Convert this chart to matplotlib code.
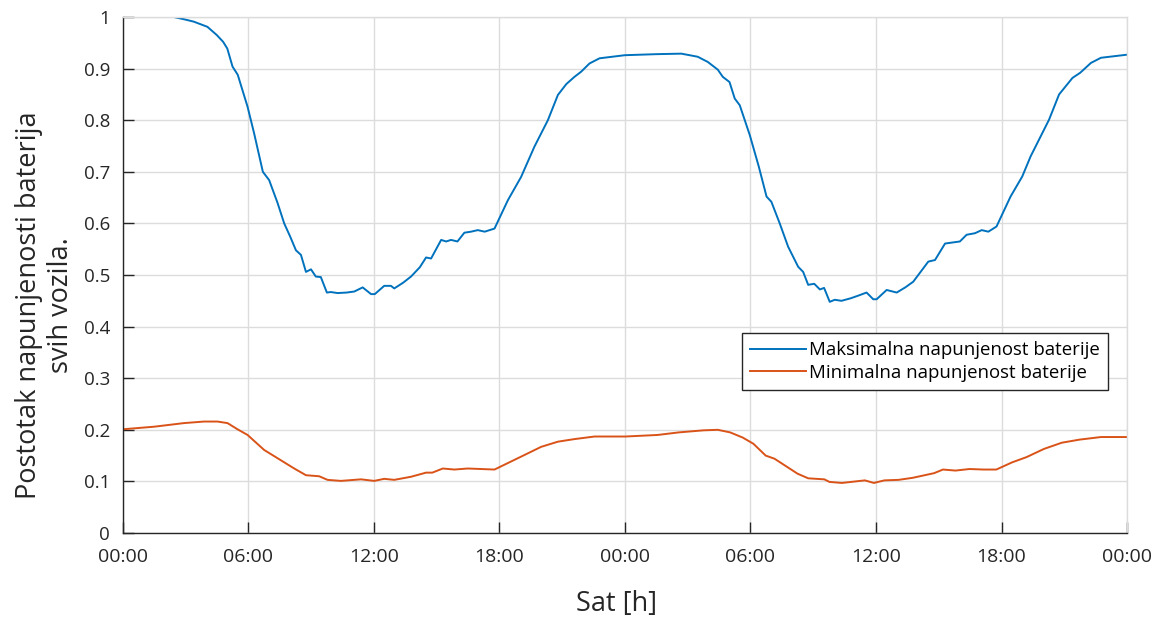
import matplotlib
matplotlib.use("Agg")
import matplotlib.pyplot as plt

plt.rcParams['font.family'] = ['Open Sans', 'DejaVu Sans']

# hours since start
t_max = [0, 1, 2, 2.45, 3.0, 3.4, 4.05, 4.5, 4.8, 5.0, 5.25, 5.5, 5.97, 6.28, 6.7, 7.0, 7.4,
         7.72, 8.0, 8.28, 8.52, 8.76, 9.0, 9.23, 9.47, 9.76, 9.95, 10.27, 10.7, 11.07, 11.47,
         11.87, 12.05, 12.5, 12.82, 12.98, 13.4, 13.78, 14.2, 14.5, 14.74, 15.22, 15.46, 15.69,
         16.0, 16.33, 16.65, 16.97, 17.3, 17.77, 18.41, 19.04, 19.68, 20.32, 20.8, 21.2, 21.59,
         21.91, 22.31, 22.79, 24.0, 25.5, 26.7, 27.48, 27.96, 28.44, 28.68, 29.0, 29.25, 29.49,
         29.97, 30.4, 30.77, 31.0, 31.4, 31.8, 32.28, 32.52, 32.76, 33.05, 33.32, 33.52, 33.79,
         34.03, 34.35, 34.8, 35.15, 35.55, 35.87, 36.03, 36.51, 36.99, 37.4, 37.78, 38.5, 38.82,
         39.3, 40.01, 40.33, 40.73, 41.05, 41.37, 41.76, 42.43, 42.99, 43.39, 44.27, 44.75,
         45.39, 45.76, 46.27, 46.75, 48]
v_max = [1.0, 1.0, 1.0, 1.0, 0.995, 0.991, 0.981, 0.965, 0.952, 0.939, 0.904, 0.888, 0.826,
         0.775, 0.700, 0.684, 0.64, 0.600, 0.575, 0.548, 0.539, 0.506, 0.511, 0.497, 0.496,
         0.466, 0.467, 0.465, 0.466, 0.468, 0.476, 0.463, 0.463, 0.479, 0.479, 0.474, 0.485,
         0.497, 0.515, 0.534, 0.532, 0.568, 0.565, 0.568, 0.565, 0.582, 0.584, 0.587, 0.584,
         0.590, 0.645, 0.690, 0.749, 0.800, 0.849, 0.870, 0.884, 0.894, 0.910, 0.920, 0.926,
         0.928, 0.929, 0.923, 0.913, 0.898, 0.884, 0.874, 0.842, 0.829, 0.771, 0.71, 0.652,
         0.642, 0.60, 0.555, 0.516, 0.506, 0.481, 0.483, 0.472, 0.475, 0.448, 0.452, 0.450,
         0.455, 0.460, 0.466, 0.453, 0.453, 0.471, 0.466, 0.476, 0.487, 0.526, 0.529, 0.561,
         0.565, 0.578, 0.581, 0.587, 0.584, 0.594, 0.652, 0.691, 0.730, 0.801, 0.850, 0.882,
         0.892, 0.911, 0.921, 0.927]

t_min = [0, 1.5, 2.93, 3.89, 4.53, 5.01, 5.49, 5.97, 6.76, 7.4, 8.2, 8.76, 9.39, 9.79, 10.43,
         11.39, 12.02, 12.5, 12.98, 13.78, 14.5, 14.8, 15.3, 15.85, 16.49, 17.13, 17.77, 19.04,
         20.0, 20.8, 21.59, 22.55, 24.03, 25.56, 26.58, 27.76, 28.44, 29.03, 29.63, 30.14,
         30.73, 31.15, 32.25, 32.76, 33.53, 33.78, 34.37, 35.47, 35.9, 36.4, 37.08, 37.76,
         38.78, 39.2, 39.8, 40.47, 41.15, 41.75, 42.51, 43.19, 44.03, 44.88, 45.73, 46.75, 48]
v_min = [0.201, 0.206, 0.213, 0.216, 0.216, 0.213, 0.201, 0.190, 0.161, 0.145, 0.125, 0.112,
         0.110, 0.103, 0.101, 0.104, 0.101, 0.105, 0.103, 0.109, 0.117, 0.117, 0.125, 0.123,
         0.125, 0.124, 0.123, 0.148, 0.167, 0.177, 0.182, 0.187, 0.187, 0.190, 0.195, 0.199,
         0.200, 0.195, 0.185, 0.173, 0.150, 0.144, 0.115, 0.106, 0.104, 0.099, 0.097, 0.102,
         0.097, 0.102, 0.103, 0.107, 0.116, 0.123, 0.121, 0.124, 0.123, 0.123, 0.137, 0.147,
         0.163, 0.175, 0.181, 0.186, 0.186]

x_ticks = [0, 6, 12, 18, 24, 30, 36, 42, 48]
x_tick_labels = ['00:00', '06:00', '12:00', '18:00', '00:00', '06:00', '12:00', '18:00', '00:00']
y_ticks = [0, 0.1, 0.2, 0.3, 0.4, 0.5, 0.6, 0.7, 0.8, 0.9, 1.0]
y_tick_labels = ['0', '0.1', '0.2', '0.3', '0.4', '0.5', '0.6', '0.7', '0.8', '0.9', '1']

label_max = 'Maksimalna napunjenost baterije'
label_min = 'Minimalna napunjenost baterije'
x_label = 'Sat [h]'
y_label = 'Postotak napunjenosti baterija\nsvih vozila.'

fig = plt.figure(figsize=(11.56, 6.21), dpi=100)
ax = fig.add_axes([0.1061, 0.1417, 0.9750 - 0.1061, 0.9726 - 0.1417])

ax.plot(t_max, v_max, color='#0072BD', lw=1.4, label=label_max)
ax.plot(t_min, v_min, color='#D95319', lw=1.4, label=label_min)

ax.set_xlim(0, 48)
ax.set_ylim(0, 1)
ax.set_xticks(x_ticks)
ax.set_xticklabels(x_tick_labels)
ax.set_yticks(y_ticks)
ax.set_yticklabels(y_tick_labels)

ax.grid(True, color='#dcdcdc', lw=1.0)
ax.set_axisbelow(True)
for s in ['top', 'right']:
    ax.spines[s].set_color('#dcdcdc')
    ax.spines[s].set_linewidth(1.0)
for s in ['left', 'bottom']:
    ax.spines[s].set_color('#262626')
    ax.spines[s].set_linewidth(1.0)

ax.tick_params(axis='both', direction='in', length=8, width=1, color='#262626',
               labelcolor='#262626')
ax.tick_params(axis='x', pad=11, labelsize=14)
ax.tick_params(axis='y', pad=9, labelsize=13.5)
ax.tick_params(top=False, right=False)

fig.text(617 / 1156, 1 - 604 / 621, x_label, fontsize=19.5, color='#262626',
         ha='center', va='center')
fig.text(45 / 1156, 1 - 305 / 621, y_label, fontsize=19.5, color='#262626',
         ha='center', va='center', rotation=90, multialignment='center', linespacing=1.2)

leg = ax.legend(loc='lower right', bbox_to_anchor=(0.981, 0.277), fontsize=13.4,
                frameon=True, fancybox=False, edgecolor='#262626', framealpha=1,
                handlelength=3.0, handletextpad=0.15, borderpad=0.45, labelspacing=0.25,
                borderaxespad=0)
leg.get_frame().set_linewidth(1.0)

fig.savefig('out.png', dpi=100, facecolor='white')
